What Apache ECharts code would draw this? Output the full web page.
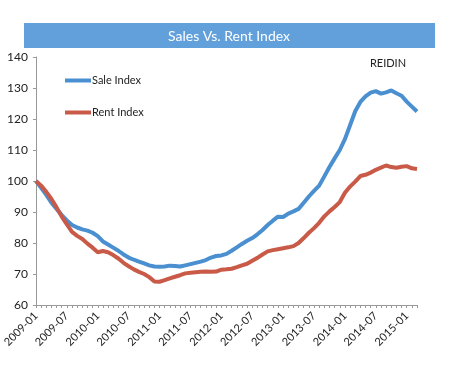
<!DOCTYPE html>
<html>
<head>
<meta charset="utf-8">
<title>Sales Vs. Rent Index</title>
<style>
  html, body { margin: 0; padding: 0; background: #fff; }
</style>
</head>
<body>
<div id="main" style="width: 456px;height:377px;"></div>
<script src="https://cdn.jsdelivr.net/npm/echarts@6/dist/echarts.min.js"></script>
<script>
// monthly values, 2009-01 .. 2015-03
var saleIndex = [
  100, 97.8, 95.5, 93, 91, 89, 87.3, 85.8, 85, 84.4, 84, 83.3,
  82.2, 80.5, 79.5, 78.5, 77.5, 76.3, 75.3, 74.6, 74, 73.4, 72.8, 72.4,
  72.3, 72.4, 72.7, 72.6, 72.4, 72.8, 73.2, 73.6, 74, 74.5, 75.3, 75.8,
  76, 76.5, 77.5, 78.6, 79.7, 80.7, 81.6, 82.8, 84.2, 85.8, 87.2, 88.5,
  88.4, 89.5, 90.2, 91, 93, 95, 96.8, 98.5, 101.5, 104.5, 107.3, 110,
  113.5, 118, 122.5, 125.5, 127.3, 128.5, 129, 128.2, 128.6, 129.2, 128.3, 127.5,
  125.6, 124, 122.4
];
var rentIndex = [
  100, 98.5, 96.5, 94.2, 91.5, 88.5, 86, 83.6, 82.3, 81.3, 79.8, 78.5,
  77, 77.4, 77, 76.1, 75, 73.6, 72.5, 71.5, 70.7, 70, 69, 67.6,
  67.5, 68, 68.6, 69.1, 69.6, 70.2, 70.4, 70.6, 70.7, 70.8, 70.7, 70.8,
  71.4, 71.5, 71.7, 72.2, 72.8, 73.3, 74.3, 75.2, 76.3, 77.3, 77.7, 78,
  78.3, 78.6, 79, 80, 81.6, 83.3, 84.8, 86.5, 88.6, 90.2, 91.6, 93.2,
  96.2, 98.2, 99.8, 101.6, 102, 102.7, 103.6, 104.3, 105, 104.5, 104.3, 104.6,
  104.8, 104.1, 103.9
];

var months = [];
for (var i = 0; i < saleIndex.length; i++) {
  var y = 2009 + Math.floor(i / 12);
  var m = (i % 12) + 1;
  months.push(y + '-' + (m < 10 ? '0' + m : m));
}

var myChart = echarts.init(document.getElementById('main'));

var option = {
  backgroundColor: '#fff',
  animation: false,
  textStyle: { fontFamily: 'Lato, "Liberation Sans", sans-serif' },
  graphic: [
    {
      type: 'rect',
      shape: { x: 24, y: 23, width: 411, height: 25 },
      style: { fill: '#62a0dc' }
    },
    {
      type: 'text',
      x: 229, y: 36,
      style: {
        text: 'Sales Vs. Rent Index',
        fill: '#fff',
        font: '14px Lato, sans-serif',
        align: 'center',
        verticalAlign: 'middle'
      }
    },
    {
      type: 'text',
      x: 388, y: 63,
      style: {
        text: 'REIDIN',
        fill: '#222',
        font: '11px Lato, sans-serif',
        align: 'center',
        verticalAlign: 'middle'
      }
    }
  ],
  legend: {
    orient: 'vertical',
    left: 60,
    top: 70,
    itemGap: 21,
    itemWidth: 26,
    itemHeight: 4,
    icon: 'rect',
    textStyle: { fontSize: 11, color: '#222', padding: [0, 0, 0, -4] },
    data: ['Sale Index', 'Rent Index']
  },
  grid: { left: 34, right: 39, top: 57, bottom: 72 },
  xAxis: {
    type: 'category',
    boundaryGap: false,
    data: months,
    axisLine: { lineStyle: { color: '#999' } },
    axisTick: { interval: 0, length: 3, lineStyle: { color: '#999' } },
    axisLabel: {
      interval: 5,
      rotate: 45,
      fontSize: 11,
      color: '#222',
      margin: 9
    }
  },
  yAxis: {
    type: 'value',
    min: 60,
    max: 140,
    interval: 10,
    splitLine: { show: false },
    axisLine: { show: true, lineStyle: { color: '#999' } },
    axisTick: { show: true, length: 3, lineStyle: { color: '#999' } },
    axisLabel: { fontSize: 12, color: '#222', margin: 8 }
  },
  series: [
    {
      name: 'Sale Index',
      type: 'line',
      data: saleIndex,
      showSymbol: false,
      symbol: 'none',
      itemStyle: { color: '#4a8fd0' },
      lineStyle: { width: 4, color: '#4a8fd0' }
    },
    {
      name: 'Rent Index',
      type: 'line',
      data: rentIndex,
      showSymbol: false,
      symbol: 'none',
      itemStyle: { color: '#c85a47' },
      lineStyle: { width: 4, color: '#c85a47' }
    }
  ]
};

myChart.setOption(option);
window.addEventListener('resize', function () {
  myChart.resize();
});
</script>
</body>
</html>
